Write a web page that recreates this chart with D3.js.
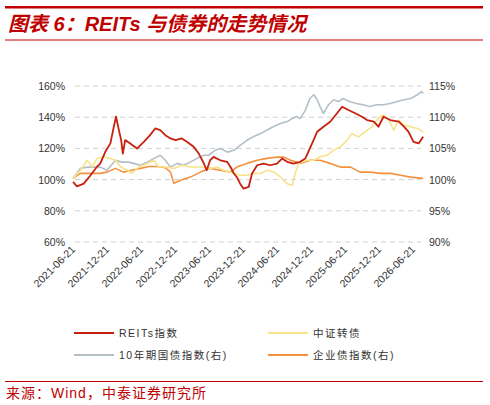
<!DOCTYPE html>
<html><head><meta charset="utf-8">
<script src="https://cdn.jsdelivr.net/npm/d3@7"></script>
<style>body{margin:0;background:#fff}svg{display:block}</style>
</head><body><svg id="c" width="490" height="405"></svg>
<script>
const tickLabels=["2021-06-21","2021-12-21","2022-06-21","2022-12-21","2023-06-21","2023-12-21","2024-06-21","2024-12-21","2025-06-21","2025-12-21","2026-06-21"];
const tickMonths=[0,6,12,18,24,30,36,42,48,54,60];
const leftTicks=[60,80,100,120,140,160];
const rightTicks=[90,95,100,105,110,115];
// months since 2021-06-21
const reitsM=[0,0.7,1.9,3.1,4.2,4.8,5.7,6.6,7.2,7.6,8.1,8.5,8.8,9.2,10.1,11.3,12.5,13.6,14.5,15.4,16.3,17.2,18.1,19.2,20.1,21.3,22.2,23.1,23.6,24.2,24.8,26,27.2,27.8,28.4,28.9,29.5,30.1,31,31.6,32.5,33.6,34.8,36,36.9,37.8,38.9,40.1,41,42.2,43.1,44.2,45.4,46.6,47.5,48.6,49.8,51,51.9,53.1,53.9,54.8,56,57.5,58.4,59.2,60.1,61,61.8];
const reitsV=[98.5,95.7,97.4,102.8,108.1,110.3,117.8,123.2,133.9,140.3,131.7,125.3,116.7,125.3,123.2,119.9,124.2,128.5,132.8,131.7,128.5,126.4,125.3,126.4,124.2,121,116.7,110.3,106,112.4,114.6,112.4,111.4,108.1,103.9,101.7,97.4,94.2,95.3,103.9,109.2,110.3,109.2,110.3,113.5,111.4,110.3,111.4,113.5,123.2,130.7,133.9,137.1,142.5,146.7,144.6,142.5,140.3,138.2,137.1,133.9,140.3,138.2,137.1,133.9,130.7,124.2,123.2,127.4];
const cbM=[0,1.3,2.5,3.4,4.2,5.4,6.6,7.5,8.4,9.6,10.4,11.6,13.1,14.3,15.1,16.6,17.8,19.2,20.7,22.5,24.2,25.4,26.6,28.4,29.5,30.7,31.9,33.1,34.2,35.4,36.6,37.8,38.7,39.2,39.8,41.3,42.5,43.6,44.8,46,47.2,48.4,49.2,50.4,51.6,52.8,53.9,54.8,55.7,56.6,57.5,58.4,59.6,60.8,61.8];
const cbV=[100.6,106,112.4,108.1,113.5,114.6,113.5,112.4,108.1,106,103.9,108.1,110.3,112.4,108.1,108.1,107.1,109.2,108.1,108.1,107.1,108.1,106,103.9,102.8,102.8,103.9,103.9,106,104.9,101.7,97.4,96.4,103.9,110.3,112.4,112.4,114.6,115.6,118.9,121,125.3,129.6,127.4,130.7,133.9,139.3,141.4,138.2,131.7,138.2,135,133.9,132.8,130.7];
const govM=[0,1.3,2.5,3.6,4.8,6,7.5,8.6,9.8,10.7,11.9,13.1,14.3,15.4,16.3,17.2,18.4,19.5,20.7,21.9,23.1,23.9,25.1,26,27.2,28.4,29.5,30.7,31.9,33.1,34.2,35.4,36.6,37.8,38.7,39.5,40.1,41,41.8,42.5,43.1,43.6,44.2,45.1,46,46.8,47.7,48.8,50,51.2,52.4,53.6,54.8,56,57.2,58.4,59.6,60.8,61.5,61.8];
const govV=[100.2,101.8,102,102,102,101.5,103.1,102.8,102.8,102.6,102.3,102.8,103.4,103.9,103.1,102,102.6,102.3,102.8,103.4,103.9,103.9,104.7,105,104.4,104.7,105.5,106.3,106.9,107.4,107.9,108.5,109,109.3,109.8,110.1,109.8,111.1,113,113.6,112.8,111.7,110.6,112,112.8,112.5,113,112.5,112.2,112,111.7,112,112,112.2,112.5,112.8,113,113.6,114.1,113.8];
const corpM=[0,1.3,3.1,4.8,6,7.5,8.9,10.4,11.9,13.4,14.8,16.3,17.2,17.8,19,20.7,22.5,24.2,26,27.8,28.9,30.7,32.5,34.2,36,37.2,38.4,40.1,41.9,43.6,45.4,47.2,49,50.7,52.5,54.3,56,57.8,59.6,61.8];
const corpV=[100.2,101,101,101,101.2,101.8,101.2,101.5,101.8,102.1,102.1,101.9,101.2,99.4,99.9,100.4,101.2,101.8,101.5,101.2,102,102.6,103.1,103.4,103.6,103.6,103.1,102.6,103.1,103.1,102.6,102,102,101.2,101.2,101,101,100.7,100.4,100.2];

const svg=d3.select("#c");
const red="#c00000";
svg.append("rect").attr("x",5).attr("y",6).attr("width",478).attr("height",2.5).attr("fill",red);
svg.append("rect").attr("x",5).attr("y",39.5).attr("width",478).attr("height",1).attr("fill",red);
svg.append("text").attr("x",8).attr("y",31).attr("fill",red).attr("font-size",20).attr("font-weight","bold").attr("font-style","italic")
 .attr("font-family","'Liberation Sans','Noto Sans CJK SC',sans-serif").text("图表 6：REITs 与债券的走势情况");

const x=d3.scaleLinear().domain([0,62]).range([73,424.3]);
const yL=d3.scaleLinear().domain([60,160]).range([242,86]);
const yR=d3.scaleLinear().domain([90,115]).range([242,86]);
const g=svg.append("g");
leftTicks.forEach(t=>{
 g.append("line").attr("x1",75).attr("x2",421).attr("y1",yL(t)).attr("y2",yL(t)).attr("stroke","#d0d0d0").attr("stroke-dasharray","5,4");
});
const f="'Liberation Sans','DejaVu Sans',sans-serif";
g.selectAll(".lt").data(leftTicks).join("text").attr("x",65).attr("y",d=>yL(d)+4).attr("text-anchor","end").attr("font-size",10.5).attr("fill","#333").attr("font-family",f).text(d=>d+"%");
g.selectAll(".rt").data(rightTicks).join("text").attr("x",429).attr("y",d=>yR(d)+4).attr("font-size",10.5).attr("fill","#333").attr("font-family",f).text(d=>d+"%");
tickMonths.forEach((m,i)=>{
 g.append("text").attr("transform",`translate(${x(m)+3},${250}) rotate(-45)`).attr("text-anchor","end").attr("font-size",10.5).attr("fill","#333").attr("font-family",f).text(tickLabels[i]);
});
function draw(M,V,ys,col,w){
 const pts=M.map((m,i)=>[m,V[i]]);
 svg.append("path").datum(pts).attr("fill","none").attr("stroke",col).attr("stroke-width",w).attr("stroke-linejoin","round")
  .attr("d",d3.line().x(d=>x(d[0])).y(d=>ys(d[1])));
}
const cGov="#b4bfc6",cCorp="#f4913f",cCb="#f8e38a",cRe="#c8200f";
draw(govM,govV,yR,cGov,1.6);
draw(corpM,corpV,yR,cCorp,1.6);
draw(cbM,cbV,yL,cCb,1.6);
draw(reitsM,reitsV,yL,cRe,1.8);
const leg=[["REITs指数",cRe,74,333],["中证转债",cCb,268,333],["10年期国债指数(右)",cGov,74,355],["企业债指数(右)",cCorp,268,355]];
leg.forEach(l=>{
 svg.append("line").attr("x1",l[2]).attr("x2",l[2]+40).attr("y1",l[3]).attr("y2",l[3]).attr("stroke",l[1]).attr("stroke-width",2);
 svg.append("text").attr("x",l[2]+45).attr("y",l[3]+4).attr("font-size",10.5).attr("fill","#333").attr("letter-spacing",1.5).attr("font-family","'Liberation Sans','Noto Sans CJK SC',sans-serif").text(l[0]);
});
svg.append("rect").attr("x",5).attr("y",381).attr("width",478).attr("height",1).attr("fill",red);
svg.append("text").attr("x",6).attr("y",398).attr("font-size",14).attr("letter-spacing",1).attr("fill",red).attr("font-family","'Liberation Sans','Noto Sans CJK SC',sans-serif").text("来源：Wind，中泰证券研究所");
</script></body></html>
